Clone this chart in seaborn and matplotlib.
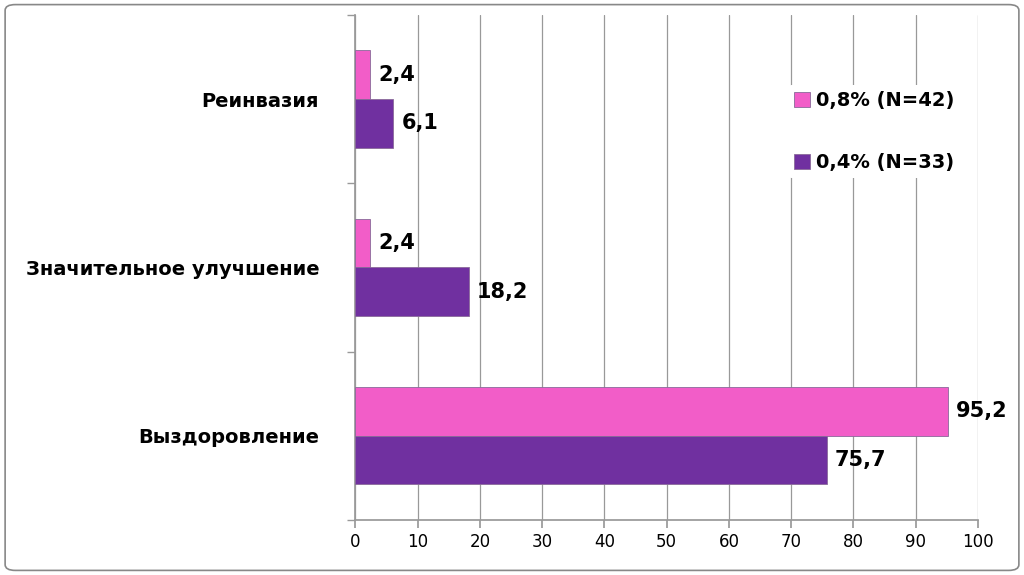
import matplotlib
matplotlib.use("Agg")
import matplotlib.pyplot as plt
import seaborn as sns
import pandas as pd
from matplotlib.patches import FancyBboxPatch

categories = ["Реинвазия", "Значительное улучшение", "Выздоровление"]
series = ["0,8% (N=42)", "0,4% (N=33)"]
values_08 = [2.4, 2.4, 95.2]
values_04 = [6.1, 18.2, 75.7]
xticks = list(range(0, 101, 10))
colors = ["#F25DC8", "#7030A0"]

df = pd.DataFrame({
    "cat": categories * 2,
    "series": [series[0]] * 3 + [series[1]] * 3,
    "val": values_08 + values_04,
})

sns.set_theme(style="white")
plt.rcParams['font.family'] = ['DejaVu Sans']
plt.rcParams['text.color'] = 'black'
fig = plt.figure(figsize=(10.24, 5.75), dpi=100)
ax = fig.add_axes([0.347, 0.096, 0.608, 0.878])
sns.barplot(data=df, y="cat", x="val", hue="series", hue_order=series,
            order=categories, palette=colors, orient="h", width=0.58,
            saturation=1, edgecolor="#8a6a9a", linewidth=0.6, ax=ax, zorder=3)
ax.set_xlim(0, 100)
ax.set_ylim(2.5, -0.5)
ax.set_xticks(xticks)
ax.set_xticklabels([str(t) for t in xticks], fontsize=12, color="black")
ax.set_xlabel(""); ax.set_ylabel("")
ax.set_yticks([0, 1, 2])
ax.set_yticklabels(categories, fontsize=14, fontweight="bold", color="black")
ax.tick_params(axis="y", length=0, pad=26)
ax.set_yticks([-0.5, 0.5, 1.5, 2.5], minor=True)
ax.tick_params(axis="y", which="minor", length=6, color="#999999", left=True)
ax.tick_params(axis="x", length=6, color="#999999", bottom=True, direction="out")
ax.grid(axis="x", color="#999999", linewidth=0.9, zorder=0)
ax.set_axisbelow(True)
for s in ["top", "right"]:
    ax.spines[s].set_visible(False)
for s in ["left", "bottom"]:
    ax.spines[s].set_color("#999999")

for cont in ax.containers:
    ax.bar_label(cont, labels=[f"{v:.1f}".replace(".", ",") for v in cont.datavalues],
                 padding=6, fontsize=15, fontweight="bold", color="black")

leg = ax.legend(loc="upper left", bbox_to_anchor=(0.68, 0.88), frameon=True,
                facecolor="white", edgecolor="none", framealpha=1,
                prop={"size": 14, "weight": "bold"}, labelspacing=2.2,
                handlelength=0.8, handleheight=0.8, handletextpad=0.3, borderpad=0.3)
for t in leg.get_texts():
    t.set_color("black")
leg.set_zorder(5)

fig.patches.append(FancyBboxPatch((0.005, 0.008), 0.99, 0.984,
                                  boxstyle="round,pad=0,rounding_size=0.01",
                                  transform=fig.transFigure, fill=False,
                                  edgecolor="#888888", linewidth=1.2))
fig.savefig("out.png", dpi=100)
